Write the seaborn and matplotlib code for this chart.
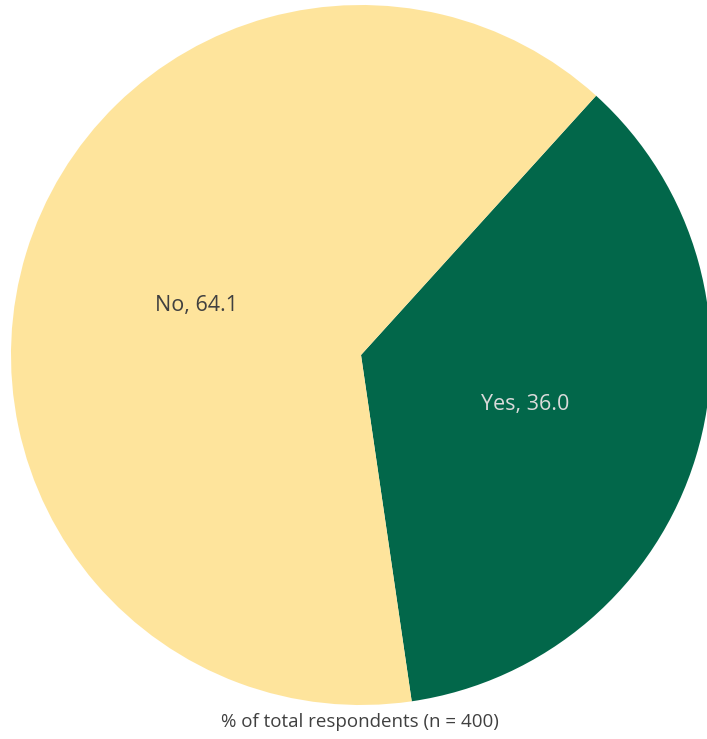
import numpy as np
import matplotlib
matplotlib.use("Agg")
import matplotlib.pyplot as plt
import seaborn as sns

# Survey answer shares (% of total respondents)
categories = ["Yes", "No"]
shares = [36.0, 64.1]
caption = "% of total respondents (n = 400)"

sns.set_theme(style="white")
plt.rcParams["font.family"] = ["Open Sans", "DejaVu Sans"]

slice_colors = ["#02674A", "#FEE49C"]
label_colors = ["#DADADA", "#404040"]

W, H = 707, 739
fig = plt.figure(figsize=(W / 100, H / 100), dpi=100)
fig.patch.set_facecolor("white")

# pie centre (361, 355) px from top-left, radius 350 px
cx, cy, r = 361, 355, 350
ax = fig.add_axes([(cx - r) / W, (H - cy - r) / H, 2 * r / W, 2 * r / H])

wedges, _ = ax.pie(
    shares,
    colors=slice_colors,
    startangle=47.8,
    counterclock=False,
    radius=1.0,
    wedgeprops=dict(linewidth=0, antialiased=True),
)
for w in wedges:
    w.set_clip_on(False)

ax.set_xlim(-1, 1)
ax.set_ylim(-1, 1)
ax.set_aspect("equal")
ax.axis("off")

# data labels at the middle of each slice
for w, cat, val, col in zip(wedges, categories, shares, label_colors):
    mid = np.deg2rad((w.theta1 + w.theta2) / 2)
    d = 0.49
    ax.text(d * np.cos(mid), d * np.sin(mid), f"{cat}, {val:.1f}",
            ha="center", va="center", fontsize=15.5, color=col)

fig.text(360 / W, 1 - 722 / H, caption, ha="center", va="center",
         fontsize=13.5, color="#404040")

fig.savefig("out.png", dpi=100, facecolor="white")
